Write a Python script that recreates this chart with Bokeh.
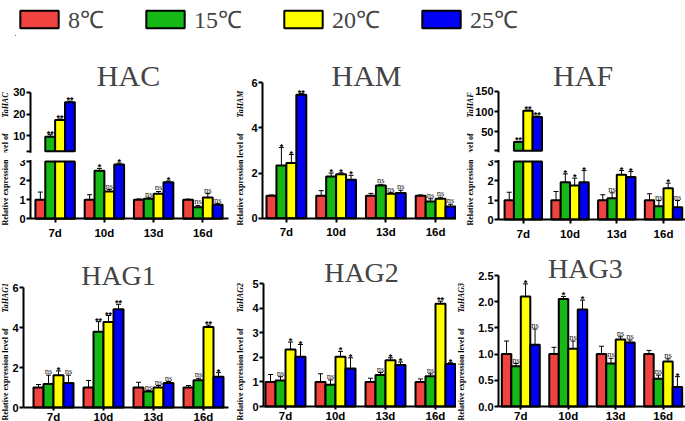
import numpy as np
from bokeh.core.properties import value
from bokeh.embed import file_html
from bokeh.layouts import column, row
from bokeh.models import (AllLabels, BoxAnnotation, ColumnDataSource, FixedTicker, Label,
                          Legend, LegendItem, LinearAxis, NumeralTickFormatter, Range1d,
                          TeeHead, Whisker)
from bokeh.plotting import figure
from bokeh.resources import INLINE

days = ["7d", "10d", "13d", "16d"]
temps = ["8℃", "15℃", "20℃", "25℃"]
colors = ["#F0433F", "#16B816", "#FFFF00", "#0000F5"]

# rows: 8, 15, 20, 25 C ; columns: 7d, 10d, 13d, 16d
hac_mean = [[1, 1, 1, 1], [9.6, 2.52, 1.05, 0.6], [17.3, 1.43, 1.31, 1.12], [25.5, 2.84, 1.91, 0.74]]
hac_sd = [[0.4, 0.26, 0.04, 0.03], [1.0, 0.12, 0.05, 0.1], [0.5, 0.1, 0.12, 0.2], [0.5, 0.08, 0.07, 0.05]]
hac_sig = [["", "", "", ""], ["**", "*", "ns", "ns"], ["**", "ns", "ns", "ns"], ["**", "*", "*", "ns"]]

ham_mean = [[1, 1, 1, 1], [2.33, 1.85, 1.45, 0.74], [2.45, 1.95, 1.08, 0.86], [5.47, 1.7, 1.12, 0.52]]
ham_sd = [[0.03, 0.22, 0.1, 0.03], [0.8, 0.15, 0.05, 0.12], [0.37, 0.06, 0.05, 0.07], [0.05, 0.2, 0.12, 0.1]]
ham_sig = [["", "", "", ""], ["*", "*", "ns", "ns"], ["*", "*", "ns", "ns"], ["**", "*", "ns", "ns"]]

haf_mean = [[1, 1, 1, 1], [25, 1.93, 1.1, 0.69], [102, 1.76, 2.31, 1.62], [87, 1.93, 2.2, 0.64]]
haf_sd = [[0.41, 0.45, 0.28, 0.33], [1.5, 0.43, 0.28, 0.29], [2, 0.38, 0.22, 0.26], [2, 0.6, 0.28, 0.34]]
haf_sig = [["", "", "", ""], ["**", "*", "ns", "ns"], ["**", "*", "*", "*"], ["**", "*", "*", "ns"]]

hag1_mean = [[1, 1, 1, 1], [1.17, 3.79, 0.8, 1.36], [1.61, 4.27, 1.0, 4.02], [1.22, 4.91, 1.22, 1.54]]
hag1_sd = [[0.15, 0.35, 0.26, 0.1], [0.45, 0.5, 0.05, 0.1], [0.22, 0.33, 0.1, 0.1], [0.4, 0.25, 0.08, 0.2]]
hag1_sig = [["", "", "", ""], ["ns", "**", "ns", "ns"], ["*", "**", "ns", "**"], ["ns", "**", "ns", "*"]]

hag2_mean = [[1, 1, 1, 1], [1.06, 0.88, 1.28, 1.23], [2.32, 2.02, 1.88, 4.18], [2.02, 1.54, 1.69, 1.73]]
hag2_sd = [[0.3, 0.33, 0.15, 0.12], [0.15, 0.2, 0.1, 0.1], [0.3, 0.22, 0.1, 0.1], [0.5, 0.44, 0.12, 0.05]]
hag2_sig = [["", "", "", ""], ["ns", "ns", "ns", "ns"], ["*", "*", "*", "**"], ["*", "*", "*", "*"]]

hag3_mean = [[1, 1, 1, 1], [0.77, 2.05, 0.82, 0.53], [2.1, 1.1, 1.28, 0.86], [1.18, 1.85, 1.22, 0.37]]
hag3_sd = [[0.25, 0.13, 0.15, 0.07], [0.05, 0.05, 0.1, 0.07], [0.24, 0.15, 0.05, 0.05], [0.3, 0.18, 0.05, 0.2]]
hag3_sig = [["", "", "", ""], ["ns", "*", "ns", "ns"], ["*", "ns", "ns", "ns"], ["ns", "*", "ns", "*"]]

hac_ticks, hac_upper_ticks = [0, 1, 2, 3], [10, 20, 30]
ham_ticks = [0, 2, 4, 6]
haf_ticks, haf_upper_ticks = [0, 1, 2, 3], [50, 100, 150]
hag1_ticks = [0, 2, 4, 6]
hag2_ticks = [0, 1, 2, 3, 4, 5]
hag3_ticks = [0, 0.5, 1.0, 1.5, 2.0, 2.5]
BREAK = 3

OFFS = [-0.3, -0.1, 0.1, 0.3]
BAR_W = 0.2
SERIF = "Liberation Serif"
SANS = "Liberation Sans"
LABEL_HEAD = "Relative expression level of "
HEAD_PX = 108  # rendered length of LABEL_HEAD at 8px bold


def style_axis(ax, tick_out=4, standoff=1):
    ax.axis_line_width = 2
    ax.major_tick_line_width = 2
    ax.major_tick_out = tick_out
    ax.major_tick_in = 0
    ax.minor_tick_line_color = None
    ax.major_label_text_font = SANS
    ax.major_label_text_font_style = "bold"
    ax.major_label_text_font_size = "11px"
    ax.major_label_text_color = "black"
    ax.major_label_standoff = standoff
    ax.major_label_policy = AllLabels()


def add_marks(p, xs, bottom, top, err, sig, color, show, rng="default"):
    p.vbar(x=xs, bottom=bottom, top=top, width=BAR_W, fill_color=color,
           line_color="black", line_width=2, y_range_name=rng)
    if not show.any():
        return
    src = ColumnDataSource(dict(x=xs[show], lo=top[show], hi=(top + err)[show]))
    p.add_layout(Whisker(source=src, base="x", lower="lo", upper="hi", dimension="height",
                         line_width=1, lower_head=None, y_range_name=rng,
                         upper_head=TeeHead(size=5, line_width=1)))
    s = np.array(sig)[show]
    x, y = src.data["x"], src.data["hi"]
    ns = s == "ns"
    st = (s != "ns") & (s != "")
    if ns.any():
        p.text(x=x[ns], y=y[ns], text=list(s[ns]), text_align="center",
               text_baseline="bottom", text_font=value(SERIF), text_font_size="8.5px",
               text_color="#222222", y_offset=1, y_range_name=rng)
    if st.any():
        p.text(x=x[st], y=y[st], text=list(s[st]), text_align="center",
               text_baseline="bottom", text_font=value(SANS), text_font_style="bold",
               text_font_size="9px", text_color="black", y_offset=4, y_range_name=rng)


def make_panel(gene, mean, sd, sig, ticks, lay, upper=None):
    # lay: pixel geometry of the panel (canvas-relative, y measured from the top)
    W, H, y0 = lay["w"], lay["h"], lay["y0"]
    a0, a1 = lay["x"]
    ppx = (W - lay["l"] - lay["r"]) / (a1 - a0)
    ppy = (y0 - lay["yt"]) / ticks[-1]
    x_start = a0 - lay["l"] / ppx
    y_end = y0 / ppy
    p = figure(width=W, height=H, x_range=Range1d(x_start, a1 + lay["r"] / ppx),
               y_range=Range1d(y_end - H / ppy, y_end), title=None, min_border=0,
               x_axis_location=None, y_axis_location=None, output_backend="svg",
               toolbar_location=None)
    p.grid.visible = False
    p.outline_line_color = None

    y_ticks = list(ticks)
    y_labels = {t: (NumeralTickFormatter(format=lay["fmt"]) and f"{t:.1f}" if lay.get("fmt")
                    else str(t)) for t in ticks}
    if upper is not None:
        u3, ut = lay["u3"], lay["ut"]
        ppu = (u3 - ut) / (upper[-1] - BREAK)
        p.extra_y_ranges = {"upper": Range1d(BREAK - (H - u3) / ppu, BREAK + u3 / ppu)}
        # the upper segment's ticks, placed on the main scale of the shared axis
        up_ticks = [BREAK] + upper
        pos = [round(y_end - (u3 - (t - BREAK) * ppu) / ppy, 4) for t in up_ticks]
        y_ticks += pos
        y_labels.update({q: ("" if t == BREAK else str(t)) for q, t in zip(pos, up_ticks)})
        gap = 1.5 / ppy
        p.add_layout(BoxAnnotation(left=x_start, right=a0 + 3 / ppx, bottom=BREAK + gap,
                                   top=pos[0] - gap, fill_color="white", fill_alpha=1,
                                   line_color=None))

    ya = LinearAxis(fixed_location=a0, bounds=(y_ticks[0], y_ticks[-1]),
                    ticker=FixedTicker(ticks=y_ticks), major_label_overrides=y_labels)
    style_axis(ya)
    p.add_layout(ya, "left")
    xa = LinearAxis(fixed_location=0, bounds=(a0, a1),
                    ticker=FixedTicker(ticks=list(range(len(days)))),
                    major_label_overrides={i: d for i, d in enumerate(days)})
    style_axis(xa, lay["xto"], lay["xso"])
    xa.major_label_text_font_size = "11.5px"
    p.add_layout(xa, "below")

    for k in range(len(temps)):
        xs = np.arange(len(days)) + OFFS[k]
        m = np.array(mean[k], dtype=float)
        e = np.array(sd[k], dtype=float)
        if upper is None:
            add_marks(p, xs, np.zeros_like(m), m, e, sig[k], colors[k], np.ones(len(m), bool))
        else:
            big = m > BREAK
            add_marks(p, xs, np.zeros_like(m), np.minimum(m, BREAK), e, sig[k], colors[k],
                      ~big)
            if big.any():
                add_marks(p, xs[big], np.full(big.sum(), float(BREAK)), m[big], e[big],
                          list(np.array(sig[k])[big]), colors[k],
                          np.ones(big.sum(), bool), rng="upper")

    p.add_layout(Label(x=lay["tx"], y=y_end - lay["ty"] / ppy, text=gene,
                       text_font=SERIF, text_font_size=lay["tfs"], text_align="center",
                       text_baseline="alphabetic"))

    kw = dict(angle=np.pi / 2, text_align="left", text_baseline="middle",
              text_font=value(SERIF), text_font_size="8px", text_color="black")
    lx = x_start + lay["lx"] / ppx
    ly = y_end - lay["lb"] / ppy
    p.text(x=[lx], y=[ly], text=[LABEL_HEAD], text_font_style="bold", **kw)
    p.text(x=[lx], y=[ly + HEAD_PX / ppy], text=["Ta" + gene],
           text_font_style="bold italic", **kw)
    return p


# y0: zero line, yt: top tick, u3/ut: upper segment bottom/top tick, ty: title baseline,
# lb: bottom of the axis title; all in px from the panel top. l/r: axis ends from sides.
row1 = dict(h=204, ty=39, tfs="30px", lb=189, xto=4, xso=4)
row2 = dict(h=181, tfs="28px", lb=180, xto=3, xso=0)

p_hac = make_panel("HAC", hac_mean, hac_sd, hac_sig, hac_ticks,
                   dict(row1, w=230, l=30, r=2, x=(-0.5, 3.52), y0=182.3, yt=125,
                        u3=114.7, ut=56, tx=1.49, lx=5), hac_upper_ticks)
p_ham = make_panel("HAM", ham_mean, ham_sd, ham_sig, ham_ticks,
                   dict(row1, w=226, l=32, r=0, x=(-0.48, 3.42), y0=181.7, yt=46.3,
                        tx=1.61, lx=10))
p_haf = make_panel("HAF", haf_mean, haf_sd, haf_sig, haf_ticks,
                   dict(row1, w=229, l=42, r=0, x=(-0.53, 3.47), y0=183, yt=125,
                        u3=114.3, ut=55, tx=1.28, lx=14), haf_upper_ticks)
p_hag1 = make_panel("HAG1", hag1_mean, hag1_sd, hag1_sig, hag1_ticks,
                    dict(row2, w=230, l=23, r=2, x=(-0.6, 3.5), y0=167, yt=47,
                         tx=1.3, ty=35, lx=5))
p_hag2 = make_panel("HAG2", hag2_mean, hag2_sd, hag2_sig, hag2_ticks,
                    dict(row2, w=226, l=33, r=0, x=(-0.44, 3.42), y0=166, yt=43,
                         tx=1.52, ty=32, lx=10))
p_hag3 = make_panel("HAG3", hag3_mean, hag3_sd, hag3_sig, hag3_ticks,
                    dict(row2, w=229, l=42, r=0, x=(-0.47, 3.47), y0=166, yt=35,
                         tx=1.36, ty=28, lx=5, fmt="0.0"))

# legend strip
leg = figure(width=685, height=36, x_range=Range1d(0, 1), y_range=Range1d(0, 1), title=None,
             output_backend="svg", toolbar_location=None, x_axis_location=None,
             y_axis_location=None, min_border_left=15, min_border_top=2,
             min_border_right=0, min_border_bottom=0)
leg.grid.visible = False
leg.outline_line_color = None
items = []
for t, c in zip(temps, colors):
    r = leg.vbar(x=[-5], top=[-5], width=0.1, fill_color=c, line_color="black", line_width=2)
    items.append(LegendItem(label=t, renderers=[r]))
leg.add_layout(Legend(items=items, orientation="horizontal", location="top_left",
                      glyph_width=48, glyph_height=22, label_text_font=SERIF,
                      label_text_font_size="24px", label_standoff=5, spacing=37,
                      padding=0, margin=0, border_line_color=None,
                      background_fill_alpha=0))

layout = column(leg, row(p_hac, p_ham, p_haf), row(p_hag1, p_hag2, p_hag3))
open("out.html", "w").write(file_html(layout, INLINE))
